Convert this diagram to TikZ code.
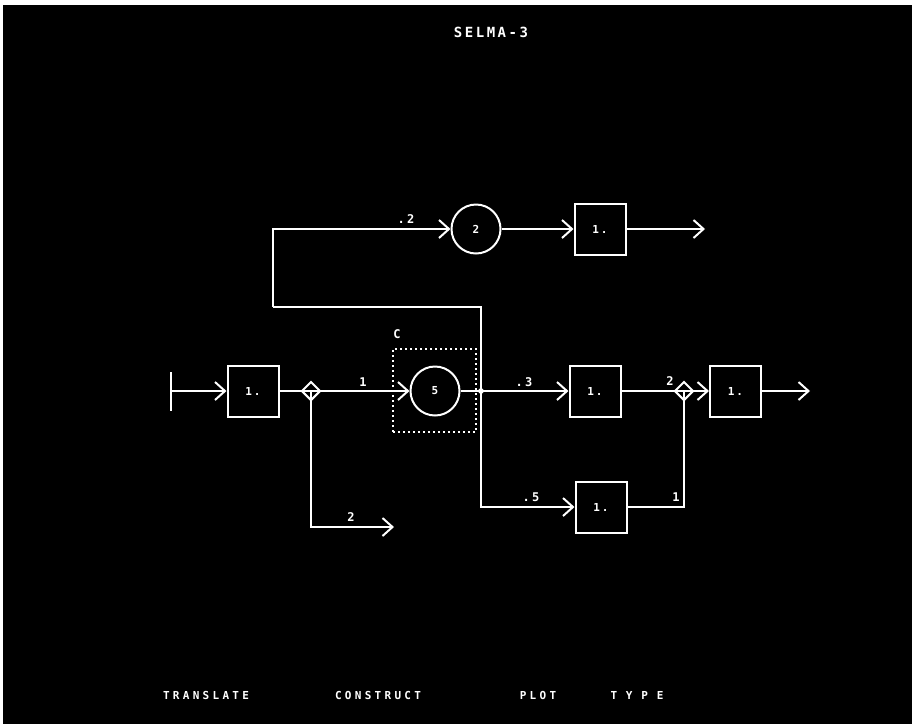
\documentclass[tikz,border=0pt]{standalone}
\usepackage{fontspec}
\newfontfamily\crt{DejaVu Sans Mono}[LetterSpace=18]
\newfontfamily\crtwide{DejaVu Sans Mono}[LetterSpace=30]
\usetikzlibrary{positioning, arrows.meta, shapes.geometric}

\begin{document}
\begin{tikzpicture}[x=1pt, y=-1pt,
    blk/.style={draw=white, line width=2pt, minimum size=51pt, inner sep=0pt, text=white, font=\crt\bfseries\fontsize{11}{11}\selectfont},
    srv/.style={circle, draw=white, line width=2pt, minimum size=49pt, inner sep=0pt, text=white, font=\crt\bfseries\fontsize{11}{11}\selectfont},
    splt/.style={diamond, draw=white, line width=2pt, minimum size=19pt, inner sep=0pt},
    flw/.style={draw=white, line width=2pt},
    arr/.style={flw, -{Straight Barb[length=10pt, width=18pt, line width=2pt]}},
    lbl/.style={text=white, inner sep=0pt, font=\crt\bfseries\fontsize{12}{12}\selectfont},
    menu/.style={text=white, inner sep=0pt, font=\crtwide\bfseries\fontsize{11}{11}\selectfont}
]
    % screen
    \useasboundingbox (0,0) rectangle (912,724);
    \fill[white] (0,0) rectangle (912,724);
    \fill[black] (3,5) rectangle (912,724);

    \node[lbl, font=\crt\bfseries\fontsize{14}{14}\selectfont] (title) at (491,32) {SELMA-3};

    % main line
    \coordinate (src) at (170,391);
    \node[blk] (b1) at (253,391) {1.};
    \node[splt] (s1) at (311,391) {};
    \node[srv] (c5) at (435,391) {5};
    \node[draw=white, line width=1.6pt, dash pattern=on 1.6pt off 3.4pt, minimum width=83pt, minimum height=83pt] (grpC) at (434.5,390.5) {};
    \node[lbl] (lblC) at (397,334) {C};
    \coordinate (jn) at (481,391);
    \node[blk] (b2) at (595,391) {1.};
    \node[splt] (s2) at (684,391) {};
    \node[blk] (b3) at (735.5,391) {1.};
    \coordinate (outM) at (810,391);

    % upper branch
    \coordinate (lp) at (273,307);
    \node[srv] (c2) at (476,229) {2};
    \node[blk] (b4) at (600,229) {1.};
    \coordinate (outT) at (705,229);

    % lower branches
    \node[blk] (b5) at (601,507) {1.};
    \coordinate (outB) at (394,527);

    \draw[arr, {Bar[width=39pt, line width=2pt]}-{Straight Barb[length=10pt, width=18pt, line width=2pt]}] (src) -- (b1);
    \draw[flw] (b1) -- (s1.center);
    \draw[arr] (s1.center) -- (c5);
    \draw[flw] (c5) -- (jn);
    \draw[arr] (jn) -- (b2);
    \draw[flw] (b2) -- (s2.center);
    \draw[arr] (s2.center) -- (b3);
    \draw[arr] (b3) -- (outM);
    \draw[arr] (s1.center) |- (outB);

    \draw[flw] (jn) |- (lp);
    \draw[arr] (lp) |- (c2);
    \draw[arr] (c2) -- (b4);
    \draw[arr] (b4) -- (outT);

    \draw[arr] (jn) |- (b5);
    \draw[flw] (b5) -| (s2.center);
    \fill[white] (jn) circle (2.8pt);

    % flow labels
    \node[lbl] (l1) at (363,382) {1};
    \node[lbl] (l2) at (406,219) {.2};
    \node[lbl] (l3) at (524,382) {.3};
    \node[lbl] (l4) at (670,381) {2};
    \node[lbl] (l5) at (531,497) {.5};
    \node[lbl] (l6) at (676,497) {1};
    \node[lbl] (l7) at (351,517) {2};

    % commands
    \node[menu] (mTr) at (206,695) {TRANSLATE};
    \node[menu] (mCo) at (378,695) {CONSTRUCT};
    \node[menu] (mPl) at (538,695) {PLOT};
    \node[menu] (mTy) at (637,695) {\addfontfeature{LetterSpace=80}TYPE};
\end{tikzpicture}
\end{document}
